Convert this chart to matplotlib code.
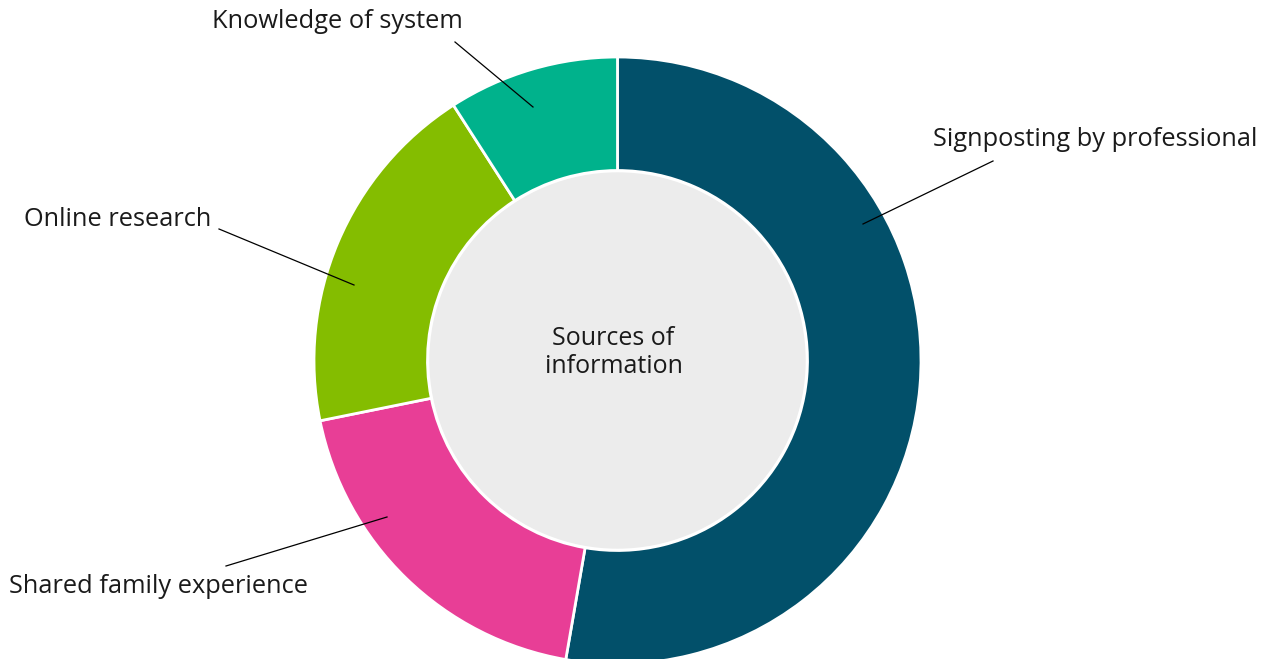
import matplotlib
matplotlib.use("Agg")
from matplotlib import pyplot as plt

# data
labels = ["Signposting by professional", "Shared family experience",
          "Online research", "Knowledge of system"]
values = [58, 21, 21, 10]
colors = ["#02506a", "#e83e96", "#84bd00", "#00b28c"]
center_text = "Sources of\ninformation"

# layout in pixels of the original picture
W, H = 1273, 659
cx, cy, R = 617.5, 360.5, 303.5
label_pos = [(933, 139), (9, 587), (24, 219), (212, 22)]
line_start = [(993, 161), (226, 566), (219, 229), (455, 42)]
line_end = [(863, 224), (387, 517), (354, 285), (533, 107)]

def px(p):
    return ((p[0] - cx) / R, (cy - p[1]) / R)

plt.rcParams['font.family'] = ['Open Sans', 'DejaVu Sans']
fig = plt.figure(figsize=(W / 100, H / 100), dpi=100)
ax = fig.add_axes([0, 0, 1, 1])
ax.pie(values, colors=colors, startangle=90, counterclock=False, radius=1,
       wedgeprops=dict(width=1 - 190 / R, edgecolor='white', linewidth=2))
ax.add_patch(plt.Circle((0, 0), 187.5 / R, color='#ececec', zorder=3))
ax.text(-4 / R, 8 / R, center_text, ha='center', va='center', fontsize=18,
        color='#1a1a1a', zorder=4, linespacing=1.12)

for lab, lp, ls, le in zip(labels, label_pos, line_start, line_end):
    ax.text(*px(lp), lab, ha='left', va='center', fontsize=18.3, color='#1a1a1a')
    a, b = px(ls), px(le)
    ax.plot([a[0], b[0]], [a[1], b[1]], color='black', lw=0.9, zorder=5)

ax.set_xlim(-cx / R, (W - cx) / R)
ax.set_ylim((cy - H) / R, cy / R)
ax.axis('off')
fig.savefig("out.png", dpi=100)
